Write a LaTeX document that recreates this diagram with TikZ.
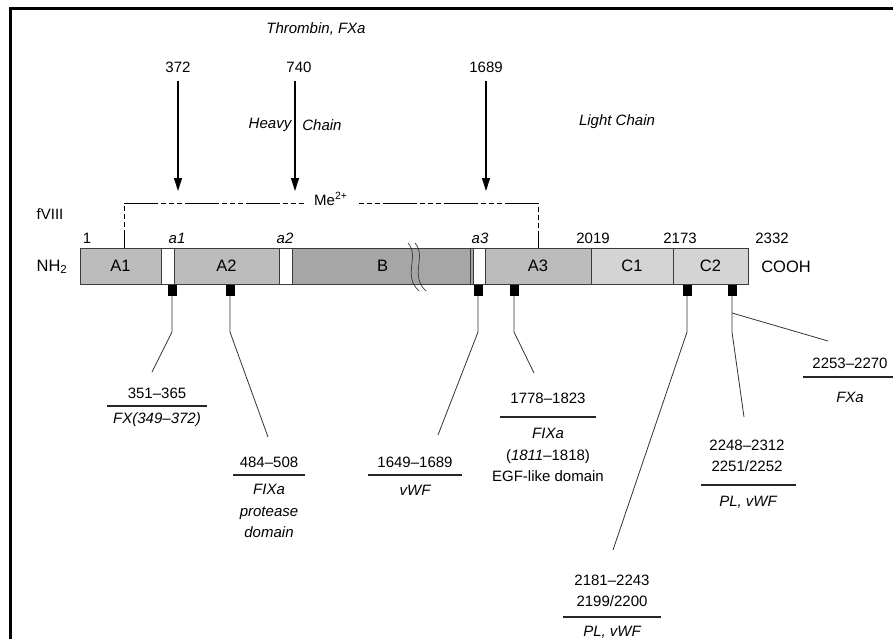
\documentclass[tikz,border=0pt]{standalone}
\usepackage{fontspec}
\setmainfont{Liberation Sans}
\usepackage{tikz}
\usetikzlibrary{arrows.meta,positioning}
\definecolor{segA}{HTML}{BCBCBC}
\definecolor{segB}{HTML}{A6A6A6}
\definecolor{segC}{HTML}{D4D4D4}
\definecolor{edgegray}{HTML}{3A3A3A}
\newcommand{\txt}{\fontsize{15}{21.5}\selectfont}

\begin{document}
\begin{tikzpicture}[x=1pt,y=-1pt,
  every node/.style={font=\txt, inner sep=1pt, align=center},
  ital/.style={font=\txt\itshape},
  big/.style={font=\fontsize{16.5}{18}\selectfont},
  seg/.style={draw=edgegray, line width=1pt, minimum height=36pt, inner sep=0pt, big},
  site/.style={fill=black, minimum width=9pt, minimum height=11pt, inner sep=0pt},
  bar/.style={fill=black!85, minimum height=1.5pt, inner sep=0pt},
  lead/.style={draw=black!80, line width=0.8pt},
  cut/.style={line width=1.1pt, -{Triangle[length=13pt,width=8pt]}, shorten <=7pt},
  metal/.style={line width=0.9pt, dash pattern=on 5pt off 3pt on 5pt off 3pt on 5pt off 3pt on 34pt off 3pt}]
\useasboundingbox (0,0) rectangle (893,639);
\draw[line width=3pt] (10,639) -- (10,8.5) -- (893,8.5);

\node[ital] (thr) at (316,29) {Thrombin, FXa};
\node (c372) at (178,67) {372};
\node (c740) at (299,67) {740};
\node (c1689) at (486,67) {1689};
\coordinate (t372) at (178,191);
\coordinate (t740) at (295,191);
\coordinate (t1689) at (486,191);
\draw[cut] (t372 |- c372.south) -- (t372);
\draw[cut] (t740 |- c740.south) -- (t740);
\draw[cut] (t1689 |- c1689.south) -- (t1689);
\node[ital] (hvy) at (270,125) {Heavy};
\node[ital] (hch) at (322,125) {Chain};
\node[ital] (lch) at (617,122) {Light Chain};

\node (fviii) at (50,214) {fVIII};
\node[big] (nh) at (52,267) {NH\textsubscript{2}};
\node[big] (cooh) at (786,267) {COOH};

\node[seg, fill=segA, minimum width=81pt] (A1) at (120.5,266) {A1};
\node[seg, fill=white, minimum width=13pt] (g1) at (167.5,266) {};
\node[seg, fill=segA, minimum width=105pt] (A2) at (226.5,266) {A2};
\node[seg, fill=white, minimum width=13pt] (g2) at (285.5,266) {};
\node[seg, fill=segB, minimum width=181pt] (B) at (382.5,266) {B};
\node[seg, fill=white, minimum width=12pt] (g3) at (479,266) {};
\node[seg, fill=segA, minimum width=106pt] (A3) at (538,266) {A3};
\node[seg, fill=segC, minimum width=82pt] (C1) at (632,266) {C1};
\node[seg, fill=segC, minimum width=75pt] (C2) at (710.5,266) {C2};
\draw[edgegray, line width=0.8pt] ([xshift=-3pt]B.north east) -- ([xshift=-3pt]B.south east);
\draw[edgegray, line width=0.7pt] (408,243) .. controls (420,257) and (402,275) .. (419,291);
\draw[edgegray, line width=0.7pt] (415,243) .. controls (427,257) and (409,275) .. (426,291);

\foreach \x/\t in {87/1,593/2019,680/2173,772/2332}
  \node (n\t) at (\x,238) {\t};
\foreach \x/\t in {177/1,285/2,480/3}
  \node[ital] (a\t) at (\x,238) {a\t};

\node[anchor=base west] (me) at (313,205) {Me\textsuperscript{2+}};
\coordinate (mL) at (124,248);
\coordinate (mR) at (538,248);
\draw[metal] ([shift={(-9pt,2pt)}]me.base west) -| (mL);
\draw[metal] ([shift={(10pt,2pt)}]me.base east) -| (mR);

\foreach \x [count=\i] in {172,230,478,514,687,732}
  \node[site] (s\i) at (\x,290.5) {};
\coordinate (kink) at (0,332);
\coordinate (e1) at (152,372);
\coordinate (e2) at (268,437);
\coordinate (e3) at (438,435);
\coordinate (e4) at (534,373);
\coordinate (e5) at (613,550);
\coordinate (e6) at (744,417);
\coordinate (b6) at (732,313);
\coordinate (e7) at (828,341);
\foreach \i in {1,...,6}
  \draw[lead] (s\i.south) -- (s\i |- kink) -- (e\i);
\draw[lead] (b6) -- (e7);

\node (p1) at (157,393) {351--365};
\node[bar, minimum width=100pt] (r1) at (157,406) {};
\node[ital] (f1) at (157,420) {FX(349--372)};

\node (p2) at (269,462) {484--508};
\node[bar, minimum width=72pt] (r2) at (269,475) {};
\node[ital] (f2) at (269,511) {FIXa\\protease\\domain};

\node (p3) at (415,462) {1649--1689};
\node[bar, minimum width=94pt] (r3) at (415,475) {};
\node[ital] (f3) at (415,490) {vWF};

\node (p4) at (548,398) {1778--1823};
\node[bar, minimum width=96pt] (r4) at (548,417) {};
\node (f4) at (548,455) {\textit{FIXa}\\(\textit{1811}--1818)\\EGF-like domain};

\node (p5) at (747,456) {2248--2312\\2251/2252};
\node[bar, minimum width=95pt] (r5) at (748,485) {};
\node[ital] (f5) at (748,502) {PL, vWF};

\node (p6) at (850,363) {2253--2270};
\node[bar, minimum width=94pt] (r6) at (850,377) {};
\node[ital] (f6) at (850,397) {FXa};

\node (p7) at (612,591) {2181--2243\\2199/2200};
\node[bar, minimum width=98pt] (r7) at (612,617) {};
\node[ital] (f7) at (612,632) {PL, vWF};
\end{tikzpicture}
\end{document}
